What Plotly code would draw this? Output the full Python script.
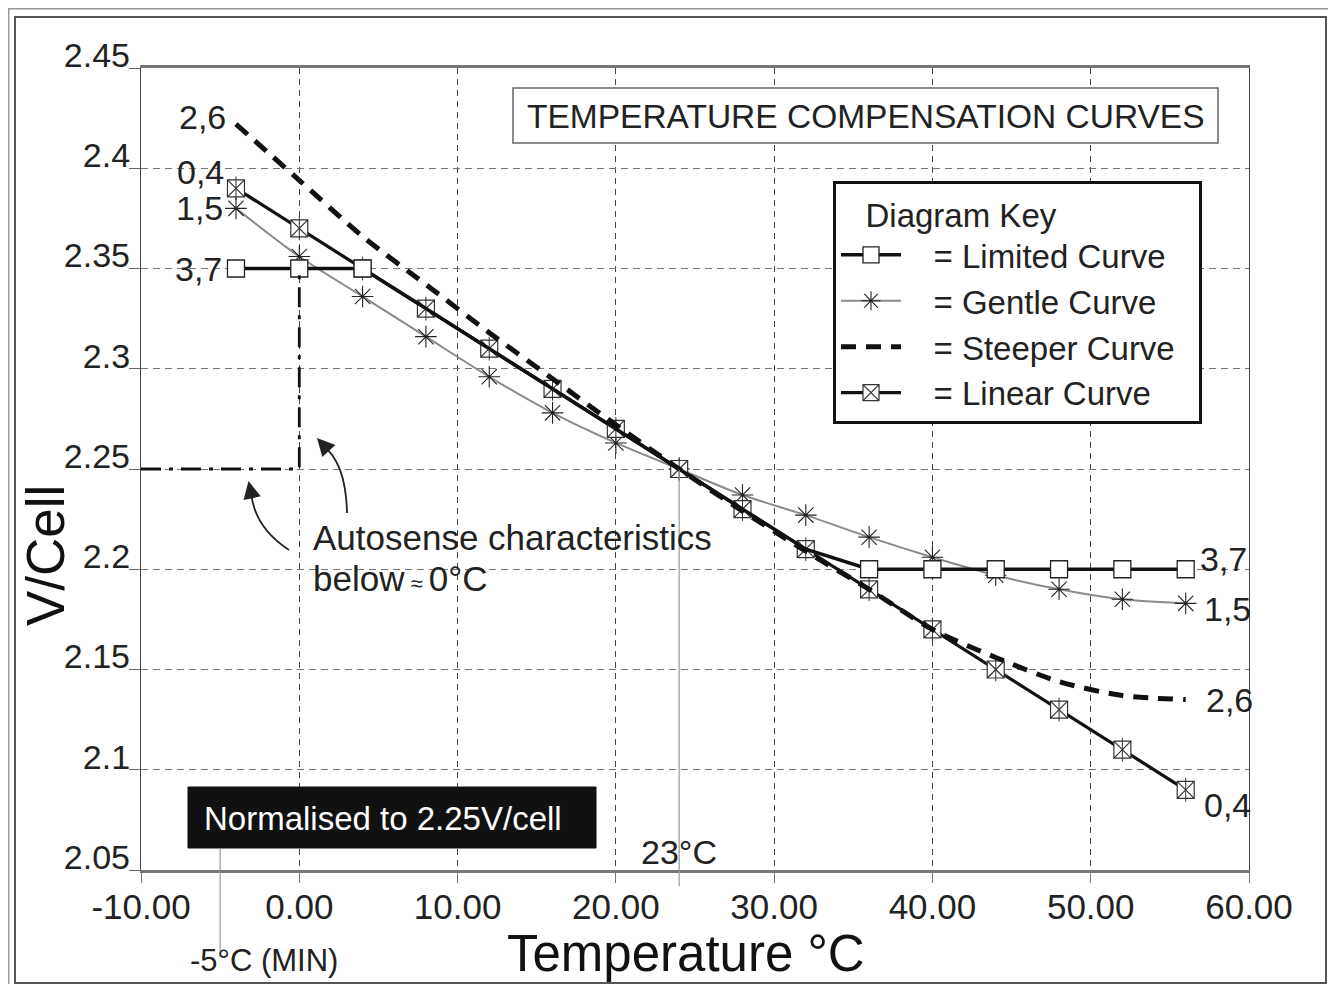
import plotly.graph_objects as go

# ---------------- data ----------------
temps = [-4, 0, 4, 8, 12, 16, 20, 24, 28, 32, 36, 40, 44, 48, 52, 56]
limited = [2.35, 2.35, 2.35, 2.33, 2.31, 2.29, 2.27, 2.25, 2.23, 2.21, 2.20, 2.20, 2.20, 2.20, 2.20, 2.20]
gentle = [2.380, 2.356, 2.336, 2.316, 2.296, 2.278, 2.263, 2.250, 2.237, 2.227, 2.216, 2.206, 2.197, 2.190, 2.185, 2.183]
steeper = [2.422, 2.394, 2.366, 2.342, 2.318, 2.295, 2.272, 2.250, 2.229, 2.209, 2.190, 2.170, 2.156, 2.144, 2.137, 2.135]
linear = [2.39, 2.37, 2.35, 2.33, 2.31, 2.29, 2.27, 2.25, 2.23, 2.21, 2.19, 2.17, 2.15, 2.13, 2.11, 2.09]
limited_marker_shown = [True, True, True, False, False, False, False, False, False, False, True, True, True, True, True, True]

autosense_x = [-10, 0, 0]
autosense_y = [2.25, 2.25, 2.35]

x_ticks = [-10, 0, 10, 20, 30, 40, 50, 60]
x_ticktext = ["-10.00", "0.00", "10.00", "20.00", "30.00", "40.00", "50.00", "60.00"]
y_ticks = [2.05, 2.1, 2.15, 2.2, 2.25, 2.3, 2.35, 2.4, 2.45]
y_ticktext = ["2.05", "2.1", "2.15", "2.2", "2.25", "2.3", "2.35", "2.4", "2.45"]

FONT = "Liberation Sans, Arial, Helvetica, sans-serif"
OFF = 8                      # page body margin
WIDTH, HEIGHT = 1336 - 2 * OFF, 992 - 2 * OFF
L, R, T, B = 141, 1249, 68, 870   # plot area in screen pixels
PW, PH = R - L, B - T
SP = "&nbsp;"


def px(xp):
    return (xp - L) / PW


def py(yp):
    return (B - yp) / PH


fig = go.Figure()

# Gentle curve
fig.add_trace(go.Scatter(
    x=temps, y=gentle, mode="lines+markers", name=SP * 3 + "= Gentle Curve" + SP * 2, legendrank=2,
    line=dict(color="#8a8a8a", width=2, shape="spline", smoothing=0.8),
    marker=dict(symbol="asterisk-open", size=18, color="#222", line=dict(color="#222", width=1.1)),
))
# Linear curve
fig.add_trace(go.Scatter(
    x=temps, y=linear, mode="lines+markers", name=SP * 3 + "= Linear Curve" + SP * 2, legendrank=4,
    line=dict(color="#111", width=3.2),
    marker=dict(symbol="square-x", size=17, color="white", line=dict(color="#333", width=1.2)),
))
fig.add_trace(go.Scatter(
    x=temps, y=linear, mode="markers", showlegend=False, hoverinfo="skip",
    marker=dict(symbol="line-ns-open", size=17, color="#333", line=dict(color="#333", width=1)),
))
# Steeper curve
fig.add_trace(go.Scatter(
    x=temps, y=steeper, mode="lines", name=SP * 3 + "= Steeper Curve" + SP * 2, legendrank=3,
    line=dict(color="#111", width=5, dash="15px,10px", shape="spline", smoothing=0.8),
))
# Limited curve
fig.add_trace(go.Scatter(
    x=temps, y=limited, mode="lines+markers", name=SP * 3 + "= Limited Curve" + SP * 2, legendrank=1,
    line=dict(color="#111", width=3.5),
    marker=dict(symbol="square", size=17,
                color=["white" if s else "rgba(0,0,0,0)" for s in limited_marker_shown],
                line=dict(color=["#222" if s else "rgba(0,0,0,0)" for s in limited_marker_shown], width=1.3)),
))
# Autosense dash-dot line
fig.add_trace(go.Scatter(
    x=autosense_x, y=autosense_y, mode="lines", showlegend=False, hoverinfo="skip",
    line=dict(color="#111", width=2.8, dash="20px,8px,4px,8px"),
))

shapes = []
annotations = []

# frames (screen px)
shapes.append(dict(type="rect", xref="paper", yref="paper", x0=px(8.7), x1=px(1345), y0=py(8.7), y1=py(1000),
                   line=dict(color="#999", width=1.5), layer="below"))
shapes.append(dict(type="rect", xref="paper", yref="paper", x0=px(15), x1=px(1326), y0=py(17), y1=py(983),
                   line=dict(color="#555", width=2), layer="below"))

# title box
shapes.append(dict(type="rect", xref="paper", yref="paper", x0=px(513), x1=px(1218), y0=py(88), y1=py(143),
                   line=dict(color="#666", width=1.5), fillcolor="white", layer="above"))
annotations.append(dict(xref="paper", yref="paper", x=px(866), y=py(116), text="TEMPERATURE COMPENSATION CURVES",
                        showarrow=False, font=dict(family=FONT, size=33.5, color="#222"),
                        xanchor="center", yanchor="middle"))

# normalised box
shapes.append(dict(type="rect", xref="paper", yref="paper", x0=px(188), x1=px(596), y0=py(787), y1=py(848),
                   line=dict(color="#111", width=1), fillcolor="#111", layer="above"))
annotations.append(dict(xref="paper", yref="paper", x=px(202), y=py(818), text="Normalised to 2.25V/cell",
                        showarrow=False, font=dict(family=FONT, size=33, color="white"),
                        xanchor="left", yanchor="middle"))

# -5°C line and text
shapes.append(dict(type="line", xref="x", yref="paper", x0=-5, x1=-5, y0=py(849), y1=py(957),
                   line=dict(color="#999", width=1.2)))
annotations.append(dict(xref="paper", yref="paper", x=px(264), y=py(960), text="-5°C (MIN)",
                        showarrow=False, font=dict(family=FONT, size=31, color="#222"),
                        xanchor="center", yanchor="middle"))

# 23°C line and text
shapes.append(dict(type="line", xref="x", yref="paper", x0=24, x1=24, y0=py(470), y1=py(886),
                   line=dict(color="#999", width=1.2)))
annotations.append(dict(xref="paper", yref="paper", x=px(679), y=py(852), text="23°C",
                        showarrow=False, font=dict(family=FONT, size=34, color="#222"),
                        xanchor="center", yanchor="middle"))

# Autosense text
annotations.append(dict(xref="paper", yref="paper", x=px(311), y=py(537), text="Autosense characteristics",
                        showarrow=False, font=dict(family=FONT, size=35, color="#222"),
                        xanchor="left", yanchor="middle"))
annotations.append(dict(xref="paper", yref="paper", x=px(311), y=py(578),
                        text="below<span style='font-size:22px'> ≈ </span>0°C",
                        showarrow=False, font=dict(family=FONT, size=35, color="#222"),
                        xanchor="left", yanchor="middle"))


# curved arrows
def qpath(p0, c, p1):
    return "M {},{} Q {},{} {},{}".format(px(p0[0]), py(p0[1]), px(c[0]), py(c[1]), px(p1[0]), py(p1[1]))


shapes.append(dict(type="path", xref="paper", yref="paper", path=qpath((347, 513), (346, 462), (322, 445)),
                   line=dict(color="#222", width=1.8)))
shapes.append(dict(type="path", xref="paper", yref="paper", path=qpath((289, 550), (254, 527), (251, 492)),
                   line=dict(color="#222", width=1.8)))
annotations.append(dict(xref="paper", yref="paper", x=px(317), y=py(438), ax=10, ay=11, text="",
                        showarrow=True, arrowhead=2, arrowsize=2.2, arrowwidth=1.6, arrowcolor="#222",
                        standoff=0))
annotations.append(dict(xref="paper", yref="paper", x=px(248.5), y=py(481), ax=3, ay=14, text="",
                        showarrow=True, arrowhead=2, arrowsize=2.2, arrowwidth=1.6, arrowcolor="#222",
                        standoff=0))

# curve end labels
lab_font = dict(family=FONT, size=34, color="#222")
left_labels = [("2,6", steeper[0], -8, 7), ("0,4", linear[0], -10, 16), ("1,5", gentle[0], -11, 0),
               ("3,7", limited[0], -12, 0)]
for txt, yv, xs, ys in left_labels:
    annotations.append(dict(x=temps[0], y=yv, xref="x", yref="y", text=txt, showarrow=False,
                            xanchor="right", yanchor="middle", xshift=xs, yshift=ys, font=lab_font))
right_labels = [("3,7", limited[-1], 12, 10), ("1,5", gentle[-1], 16, -6), ("2,6", steeper[-1], 18, 0),
                ("0,4", linear[-1], 16, -15)]
for txt, yv, xs, ys in right_labels:
    annotations.append(dict(x=temps[-1], y=yv, xref="x", yref="y", text=txt, showarrow=False,
                            xanchor="left", yanchor="middle", xshift=xs, yshift=ys, font=lab_font))

# axis titles
annotations.append(dict(xref="paper", yref="paper", x=px(686), y=py(954), text="Temperature °C",
                        showarrow=False, font=dict(family=FONT, size=51, color="#111"),
                        xanchor="center", yanchor="middle"))
annotations.append(dict(xref="paper", yref="paper", x=px(45), y=py(556), text="V/Cell", textangle=-90,
                        showarrow=False, font=dict(family=FONT, size=53, color="#111"),
                        xanchor="center", yanchor="middle"))

fig.update_layout(
    width=WIDTH, height=HEIGHT, autosize=False,
    margin=dict(l=L - OFF, r=(WIDTH + OFF) - R, t=T - OFF, b=(HEIGHT + OFF) - B, pad=0),
    paper_bgcolor="white", plot_bgcolor="white",
    font=dict(family=FONT, color="#222"),
    shapes=shapes, annotations=annotations,
    showlegend=True,
    legend=dict(
        x=px(833), y=py(181), xanchor="left", yanchor="top",
        bgcolor="white", bordercolor="#111", borderwidth=3,
        font=dict(family=FONT, size=33, color="#222"),
        title=dict(text=SP * 3 + "Diagram Key", font=dict(family=FONT, size=33, color="#222")),
        tracegroupgap=0, itemwidth=60,
    ),
    xaxis=dict(
        range=[-10, 60], tickvals=x_ticks, ticktext=x_ticktext,
        showgrid=True, gridcolor="#444", gridwidth=1, griddash="6px,5px",
        showline=True, linecolor="#777", linewidth=2.5, mirror=True,
        ticks="outside", ticklen=10, tickcolor="#777", tickwidth=1.2,
        tickfont=dict(family=FONT, size=35, color="#222"),
        ticklabelstandoff=-6,
        zeroline=False,
    ),
    yaxis=dict(
        range=[2.05, 2.45], tickvals=y_ticks, ticktext=y_ticktext,
        showgrid=True, gridcolor="#777", gridwidth=1.2, griddash="7px,5px",
        showline=True, linecolor="#444", linewidth=1.3, mirror=True,
        ticks="outside", ticklen=11, tickcolor="#666", tickwidth=1.2,
        tickfont=dict(family=FONT, size=34, color="#222"),
        ticklabelshift=-13, ticklabelstandoff=-8,
        zeroline=False,
    ),
)

fig.write_html("out.html")
